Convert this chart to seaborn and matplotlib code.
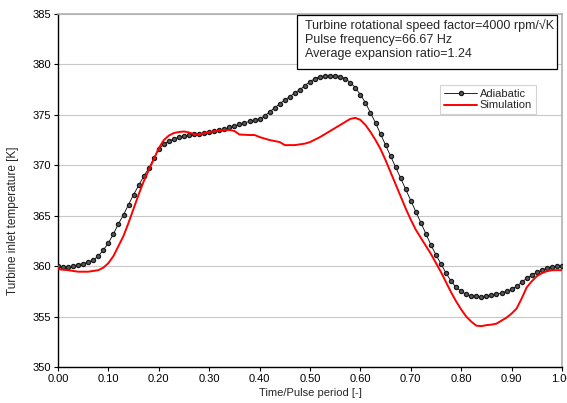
import numpy as np
import pandas as pd
import matplotlib
matplotlib.use("Agg")
import matplotlib.pyplot as plt
from matplotlib.patches import Rectangle
import seaborn as sns

# Adiabatic temperature, sampled every 0.01 of the pulse period
adiabatic_t = [round(i * 0.01, 2) for i in range(101)]
adiabatic_T = [
    360.0, 359.9, 359.9, 360.0, 360.15, 360.25, 360.4, 360.6, 361.0, 361.6,
    362.3, 363.2, 364.2, 365.1, 366.1, 367.1, 368.0, 368.9, 369.7, 370.7,
    371.6, 372.1, 372.4, 372.6, 372.8, 372.9, 373.0, 373.1, 373.15, 373.2,
    373.3, 373.4, 373.5, 373.6, 373.75, 373.9, 374.05, 374.2, 374.35, 374.5,
    374.6, 374.9, 375.3, 375.7, 376.1, 376.5, 376.8, 377.2, 377.5, 377.9,
    378.3, 378.6, 378.8, 378.85, 378.9, 378.9, 378.8, 378.6, 378.2, 377.7,
    377.0, 376.2, 375.2, 374.2, 373.1, 372.0, 370.9, 369.8, 368.7, 367.6,
    366.5, 365.4, 364.3, 363.2, 362.1, 361.1, 360.2, 359.3, 358.5, 357.9,
    357.5, 357.2, 357.05, 357.0, 356.95, 357.0, 357.1, 357.2, 357.35, 357.5,
    357.7, 358.0, 358.4, 358.8, 359.1, 359.4, 359.6, 359.8, 359.9, 360.0,
    360.0,
]

# Simulated temperature
sim_t = [
    0.00, 0.02, 0.04, 0.06, 0.08, 0.09, 0.10, 0.11, 0.12, 0.13,
    0.14, 0.15, 0.16, 0.17, 0.18, 0.19, 0.20, 0.21, 0.22, 0.23,
    0.24, 0.25, 0.26, 0.27, 0.28, 0.29, 0.30, 0.32, 0.34, 0.35,
    0.36, 0.38, 0.39, 0.40, 0.42, 0.44, 0.45, 0.47, 0.49, 0.50,
    0.52, 0.54, 0.56, 0.58, 0.59, 0.60, 0.61, 0.62, 0.63, 0.64,
    0.65, 0.66, 0.67, 0.68, 0.69, 0.70, 0.71, 0.72, 0.73, 0.74,
    0.75, 0.76, 0.77, 0.78, 0.79, 0.80, 0.81, 0.82, 0.83, 0.84,
    0.85, 0.86, 0.87, 0.88, 0.89, 0.90, 0.91, 0.92, 0.93, 0.94,
    0.95, 0.96, 0.97, 0.98, 1.00,
]
sim_T = [
    359.7, 359.6, 359.45, 359.45, 359.6, 359.85, 360.3, 361.0, 362.0, 363.0,
    364.3, 365.7, 367.1, 368.4, 369.5, 370.6, 371.7, 372.5, 372.95, 373.2,
    373.3, 373.35, 373.25, 373.1, 373.05, 373.2, 373.3, 373.45, 373.5, 373.4,
    373.05, 373.0, 373.0, 372.8, 372.5, 372.3, 372.0, 372.0, 372.15, 372.3,
    372.8, 373.4, 374.0, 374.6, 374.7, 374.5, 374.0, 373.3, 372.5, 371.6,
    370.5, 369.3, 368.1, 366.9, 365.7, 364.6, 363.6, 362.8, 362.0, 361.2,
    360.3, 359.4, 358.4, 357.4, 356.5, 355.7, 355.0, 354.5, 354.1, 354.05,
    354.15, 354.2, 354.3, 354.6, 354.9, 355.3, 355.8, 356.8, 357.9, 358.5,
    359.0, 359.3, 359.5, 359.6, 359.6,
]

x_ticks = [0.0, 0.1, 0.2, 0.3, 0.4, 0.5, 0.6, 0.7, 0.8, 0.9, 1.0]
y_ticks = [350, 355, 360, 365, 370, 375, 380, 385]

info_lines = [
    "Turbine rotational speed factor=4000 rpm/\u221aK",
    "Pulse frequency=66.67 Hz",
    "Average expansion ratio=1.24",
]

sns.set_style("white")
plt.rcParams["font.family"] = ["Liberation Sans", "DejaVu Sans"]

adi_df = pd.DataFrame({"t": adiabatic_t, "T": adiabatic_T})
sim_df = pd.DataFrame({"t": sim_t, "T": sim_T})

fig = plt.figure(figsize=(5.67, 4.03), dpi=100)
ax = fig.add_axes([0.1023, 0.0893, 0.8889, 0.876])

ax.grid(axis="y", color="#c8c8c8", linewidth=0.8)
ax.set_axisbelow(True)

sns.lineplot(data=adi_df, x="t", y="T", ax=ax, color="#555555", linewidth=0.6,
             marker="o", markersize=4.3, markerfacecolor="#5a5a5a",
             markeredgecolor="#1a1a1a", markeredgewidth=0.9,
             label="Adiabatic", zorder=3)
sns.lineplot(data=sim_df, x="t", y="T", ax=ax, color="#ff0000", linewidth=1.4,
             label="Simulation", zorder=4)

ax.set_xlim(0, 1.0)
ax.set_ylim(350, 385)
ax.set_xticks(x_ticks)
ax.set_xticklabels([f"{v:.2f}" for v in x_ticks])
ax.set_yticks(y_ticks)
ax.set_yticklabels([str(v) for v in y_ticks])
ax.tick_params(axis="both", direction="out", length=3, width=0.8,
               labelsize=8, colors="black", pad=2, bottom=True, left=True)

for side in ("left", "bottom"):
    ax.spines[side].set_color("black")
    ax.spines[side].set_linewidth(1.0)
for side in ("top", "right"):
    ax.spines[side].set_color("#b0b0b0")
    ax.spines[side].set_linewidth(1.2)

ax.set_xlabel("Time/Pulse period [-]", fontsize=8, labelpad=3)
ax.set_ylabel("Turbine inlet temperature [K]", fontsize=8.5)
ax.yaxis.set_label_coords(-0.077, 0.414)

# Legend with the series
handles, labels = ax.get_legend_handles_labels()
handles[0].set_markersize(3)
handles[0].set_color("black")
leg = ax.legend(handles, labels, loc="upper left", bbox_to_anchor=(0.758, 0.799),
                fontsize=8, frameon=True, fancybox=False, handlelength=3.0,
                handletextpad=0.2, borderpad=0.35, labelspacing=0.15,
                borderaxespad=0)
leg.get_frame().set_edgecolor("#c8c8c8")
leg.get_frame().set_linewidth(0.8)

# Operating conditions box
ax.add_patch(Rectangle((0.474, 0.844), 0.516, 0.153, transform=ax.transAxes,
                       facecolor="white", edgecolor="black", linewidth=0.9,
                       zorder=6, clip_on=False))
ax.text(0.490, 0.987, "\n".join(info_lines), transform=ax.transAxes,
        ha="left", va="top", fontsize=9, linespacing=1.2, zorder=7)

fig.savefig("out.png", dpi=100)
